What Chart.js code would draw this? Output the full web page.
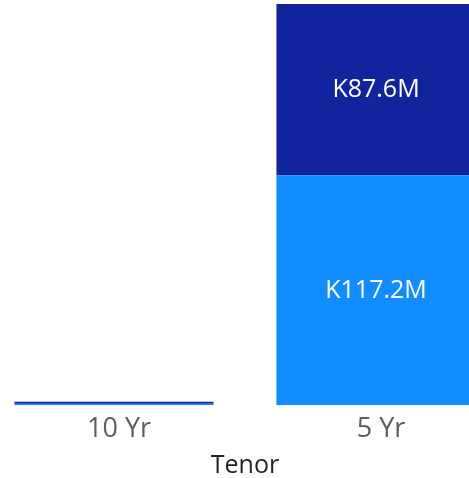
<!DOCTYPE html>
<html>
<head>
<meta charset="utf-8">
<script src="https://cdn.jsdelivr.net/npm/chart.js@4"></script>
<style>
  html, body { margin: 0; padding: 0; background: #fff; overflow: hidden; }
  body { width: 469px; height: 478px; position: relative; }
  #wrap { position: absolute; left: -17px; top: 0; width: 524px; height: 478px; }
</style>
</head>
<body>
<div id="wrap"><canvas id="chart"></canvas></div>
<script>
const tenors = ['10 Yr', '5 Yr'];
const lowerValues = [0.8, 117.2];   // light blue, millions
const upperValues = [1.0, 87.6];    // dark blue, millions
const seriesColors = ['#118DFF', '#12239E'];

const FONT = '"Open Sans", "Noto Sans", sans-serif';

/* Write value labels inside stacked bars when they fit */
const barLabels = {
  id: 'barLabels',
  afterDatasetsDraw(chart) {
    const ctx = chart.ctx;
    ctx.save();
    ctx.font = '25px ' + FONT;
    ctx.fillStyle = '#ffffff';
    ctx.textAlign = 'center';
    ctx.textBaseline = 'middle';
    chart.data.datasets.forEach((ds, i) => {
      chart.getDatasetMeta(i).data.forEach((bar, j) => {
        const h = Math.abs(bar.base - bar.y);
        if (h < 34) return;
        ctx.fillText(label(ds.data[j]), bar.x, (bar.y + bar.base) / 2);
      });
    });
    ctx.restore();
  }
};

function label(v) { return 'K' + v.toFixed(1) + 'M'; }

new Chart(document.getElementById('chart'), {
  type: 'bar',
  data: {
    labels: tenors,
    datasets: [
      { label: 'Lower', data: lowerValues, backgroundColor: seriesColors[0],
        barPercentage: 1, categoryPercentage: 0.76 },
      { label: 'Upper', data: upperValues, backgroundColor: seriesColors[1],
        barPercentage: 1, categoryPercentage: 0.76 }
    ]
  },
  options: {
    responsive: true,
    maintainAspectRatio: false,
    animation: false,
    layout: { padding: { top: 4, left: 0, right: 0, bottom: 0 } },
    plugins: { legend: { display: false }, tooltip: { enabled: false } },
    scales: {
      x: {
        stacked: true,
        grid: { display: false, drawTicks: false },
        border: { display: false },
        ticks: { color: '#605E5C', font: { family: FONT, size: 27, lineHeight: 0.88 }, padding: 12, labelOffset: 5 },
        title: { display: true, text: 'Tenor', color: '#252423',
                 font: { family: FONT, size: 25, lineHeight: 1 }, padding: { top: 0, bottom: 0 } }
      },
      y: {
        stacked: true,
        display: false,
        min: 0,
        max: lowerValues[1] + upperValues[1]
      }
    }
  },
  plugins: [barLabels]
});
</script>
</body>
</html>
